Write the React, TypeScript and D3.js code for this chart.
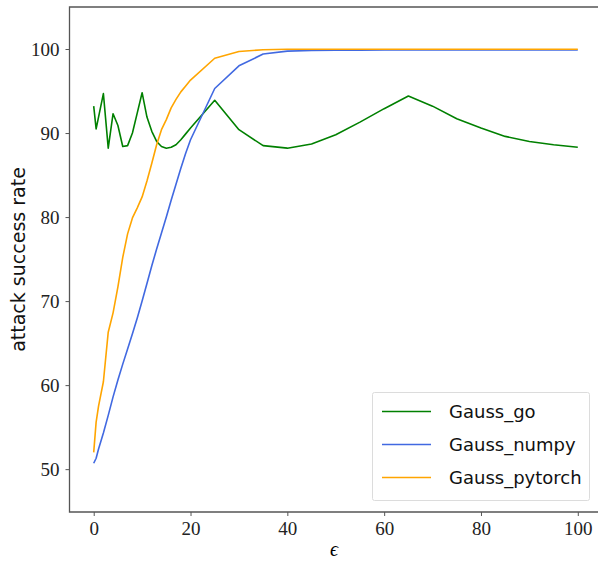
import React, { useEffect, useRef } from 'react';
import * as d3 from 'd3';

// epsilon grid shared by all three runs
const eps = [0, 0.5, 1, 2, 3, 4, 5, 6, 7, 8, 9, 10, 11, 12, 13, 14, 15, 16, 17, 18, 19, 20,
  25, 30, 35, 40, 45, 50, 55, 60, 65, 70, 75, 80, 85, 90, 95, 100];

const gaussGo = [93.2, 90.5, 91.9, 94.7, 88.2, 92.3, 90.9, 88.4, 88.5, 90.0, 92.4, 94.8, 91.9, 90.2, 89.0, 88.4, 88.2, 88.3, 88.6, 89.2, 89.9, 90.6,
  93.9, 90.4, 88.5, 88.2, 88.7, 89.8, 91.3, 92.9, 94.4, 93.2, 91.7, 90.6, 89.6, 89.0, 88.6, 88.3];

const gaussNumpy = [50.7, 51.3, 52.4, 54.3, 56.4, 58.6, 60.6, 62.5, 64.3, 66.1, 68.0, 70.0, 72.1, 74.2, 76.2, 78.1, 80.0, 82.0, 83.9, 85.8, 87.6, 89.2,
  95.3, 98.0, 99.4, 99.75, 99.82, 99.85, 99.87, 99.88, 99.88, 99.88, 99.88, 99.88, 99.88, 99.88, 99.88, 99.88];

const gaussPytorch = [52.0, 55.6, 57.5, 60.4, 66.3, 68.6, 71.7, 75.2, 78.0, 79.9, 81.1, 82.4, 84.3, 86.4, 88.6, 90.4, 91.6, 93.0, 94.0, 94.9, 95.6, 96.3,
  98.9, 99.7, 99.92, 99.97, 99.98, 99.98, 99.98, 99.98, 99.98, 99.98, 99.98, 99.98, 99.98, 99.98, 99.98, 99.98];

const seriesNames = ['Gauss_go', 'Gauss_numpy', 'Gauss_pytorch'];
const seriesValues = [gaussGo, gaussNumpy, gaussPytorch];
const seriesColors = ['#008000', '#4169e1', '#ffa500'];

const xTicks = [0, 20, 40, 60, 80, 100];
const yTicks = [50, 60, 70, 80, 90, 100];

const App = () => {
  const svgRef = useRef<SVGSVGElement>(null);
  const width = 598;
  const height = 562;

  useEffect(() => {
    const svg = d3.select(svgRef.current);
    svg.selectAll('*').remove();

    const left = 69.5, right = 602, top = 7, bottom = 512;

    const x = d3.scaleLinear().domain([-5, 105]).range([left, right]);
    const y = d3.scaleLinear().domain([44.9, 105]).range([bottom, top]);

    // Lines
    const line = d3.line<number>()
      .x((_, i) => x(eps[i]))
      .y(d => y(d));

    seriesValues.forEach((vals, k) => {
      svg.append('path')
        .datum(vals)
        .attr('d', line)
        .attr('fill', 'none')
        .attr('stroke', seriesColors[k])
        .attr('stroke-width', 1.6)
        .attr('stroke-linejoin', 'round');
    });

    // Axes
    const xAxis = d3.axisBottom(x).tickValues(xTicks).tickSize(4).tickPadding(6);
    const gx = svg.append('g')
      .attr('transform', `translate(0, ${bottom})`)
      .call(xAxis);

    const yAxis = d3.axisLeft(y).tickValues(yTicks).tickSize(4).tickPadding(6);
    const gy = svg.append('g')
      .attr('transform', `translate(${left}, 0)`)
      .call(yAxis);

    [gx, gy].forEach(g => {
      g.select('.domain').remove();
      g.selectAll('line').attr('stroke', '#555').attr('stroke-width', 1);
      g.selectAll('text')
        .attr('font-family', '"Liberation Serif", serif')
        .attr('font-size', 19)
        .attr('fill', '#222');
    });

    // spines (right side falls outside the crop)
    svg.append('path')
      .attr('d', `M${right},${top}H${left}V${bottom}H${right}`)
      .attr('fill', 'none')
      .attr('stroke', '#555')
      .attr('stroke-width', 1.3);

    // Axis labels
    svg.append('text')
      .attr('x', 334)
      .attr('y', 556)
      .attr('text-anchor', 'middle')
      .attr('font-family', '"Liberation Serif", serif')
      .attr('font-style', 'italic')
      .attr('font-size', 20)
      .text('ϵ');

    svg.append('text')
      .attr('transform', `translate(25, ${(top + bottom) / 2}) rotate(-90)`)
      .attr('text-anchor', 'middle')
      .attr('font-family', '"DejaVu Sans", sans-serif')
      .attr('font-size', 19)
      .attr('fill', '#111')
      .text('attack success rate');

    // Legend
    const lg = svg.append('g');
    lg.append('rect')
      .attr('x', 372.5)
      .attr('y', 392.5)
      .attr('width', 217)
      .attr('height', 108)
      .attr('rx', 2)
      .attr('fill', 'white')
      .attr('stroke', '#dcdcdc')
      .attr('stroke-width', 1);

    seriesNames.forEach((name, k) => {
      const ry = 411.5 + k * 33;
      lg.append('line')
        .attr('x1', 382).attr('x2', 431)
        .attr('y1', ry).attr('y2', ry)
        .attr('stroke', seriesColors[k])
        .attr('stroke-width', 1.6);
      lg.append('text')
        .attr('x', 449)
        .attr('y', ry + 6.5)
        .attr('font-family', '"DejaVu Sans", sans-serif')
        .attr('font-size', 18)
        .attr('fill', '#111')
        .text(name);
    });
  }, []);

  return (
    <svg ref={svgRef} width={width} height={height}
      style={{ position: 'absolute', left: 0, top: 0, background: 'white' }} />
  );
};

export default App;
